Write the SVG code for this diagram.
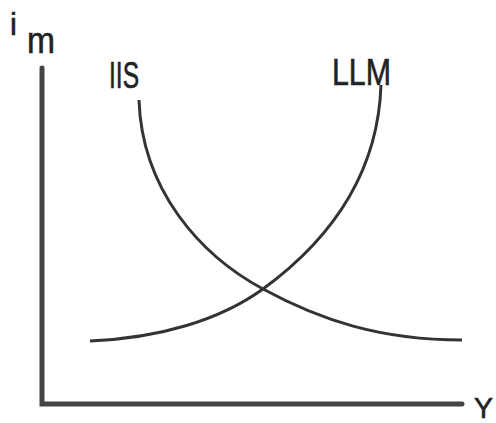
<svg xmlns="http://www.w3.org/2000/svg" width="496" height="423" viewBox="0 0 496 423">
<style>
.lbl{font-family:"Liberation Sans",Arial,sans-serif;fill:#222;stroke:#222;stroke-width:0.6}
.axis{fill:none;stroke:#444;stroke-width:5;stroke-linecap:round;stroke-linejoin:miter}
.curve{fill:none;stroke:#333;stroke-width:3;stroke-linecap:butt}
</style>
<rect width="496" height="423" fill="#fff"/>
<g id="axes">
<path class="axis" d="M42,68 L42,404 L462,404"/>
</g>
<g id="labels">
<text class="lbl" x="10" y="35" font-size="31">i</text>
<text class="lbl" x="27" y="53" font-size="37" textLength="28" lengthAdjust="spacingAndGlyphs">m</text>
<text class="lbl" x="474" y="418" font-size="30" textLength="19" lengthAdjust="spacingAndGlyphs">Y</text>
</g>
<g id="connectors">
<path id="IIS-curve" class="curve" d="M139,100 C142,190 200,255 263,289 C320,320 380,340 462,340"/>
<path id="LLM-curve" class="curve" d="M90,341 C160,338 220,320 263,289 C330,240 378,175 381,85"/>
</g>
<g id="IIS">
<text class="lbl" x="109" y="88" font-size="36" textLength="30" lengthAdjust="spacingAndGlyphs">IIS</text>
</g>
<g id="LLM">
<text class="lbl" x="332" y="85" font-size="36" textLength="59" lengthAdjust="spacingAndGlyphs">LLM</text>
</g>
</svg>
